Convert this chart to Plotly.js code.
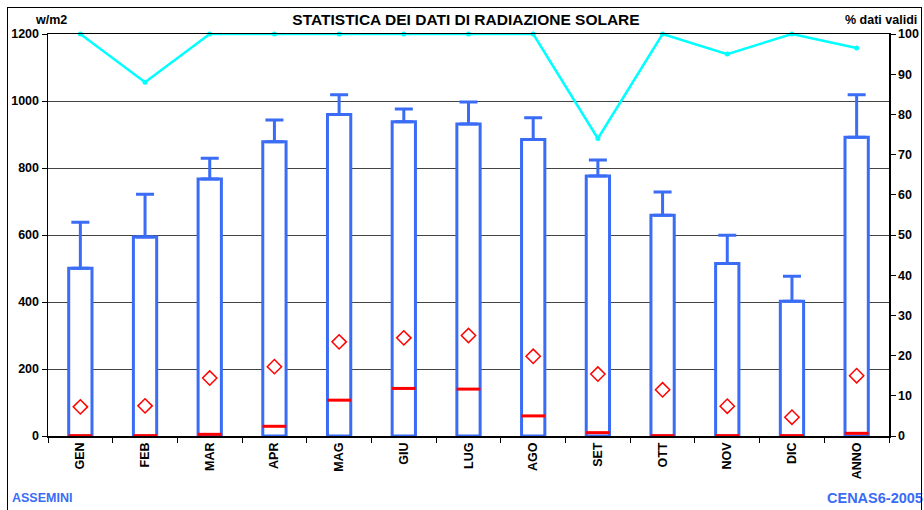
<!DOCTYPE html>
<html>
<head>
<meta charset="utf-8">
<script src="https://cdn.plot.ly/plotly-3.0.1.min.js"></script>
<style>
  html, body { margin: 0; padding: 0; background: #fff; }
  #wrap { position: relative; width: 924px; height: 510px; overflow: hidden; }
  #chart { position: absolute; left: 0; top: 0; width: 924px; height: 510px; }
  #frame { position: absolute; left: 7px; top: 7px; width: 915px; height: 510px; border: 1.5px solid #000; pointer-events: none; box-sizing: border-box; }
</style>
</head>
<body>
<div id="wrap">
  <div id="chart"></div>
  <div id="frame"></div>
</div>
<script>
// ---- data ----
const categories = ['GEN','FEB','MAR','APR','MAG','GIU','LUG','AGO','SET','OTT','NOV','DIC','ANNO'];
const boxTop     = [501, 594, 767, 878, 960, 938, 931, 885, 776, 659, 515, 402, 892];
const whiskerTop = [638, 722, 829, 943, 1019, 976, 997, 950, 824, 728, 599, 477, 1019];
const meanVal    = [87, 90, 173, 207, 281, 293, 300, 238, 185, 138, 89, 56, 180];
const medianVal  = [1, 1, 5, 29, 107, 142, 140, 60, 10, 1, 1, 1, 8];
const validPct   = [100, 88, 100, 100, 100, 100, 100, 100, 74, 100, 95, 100, 96.5];
const yTicks     = [0, 200, 400, 600, 800, 1000, 1200];
const y2Ticks    = [0, 10, 20, 30, 40, 50, 60, 70, 80, 90, 100];

const BLUE = '#3a6cf6';
const RED = '#ff0000';
const CYAN = '#00ffff';
const FONT = 'Liberation Sans, Arial, sans-serif';

const traces = [
  {
    type: 'bar', x: categories, y: boxTop, width: 0.36,
    marker: { color: '#ffffff', line: { color: BLUE, width: 3 } },
    error_y: {
      type: 'data', symmetric: false,
      array: whiskerTop.map((w, i) => w - boxTop[i]),
      arrayminus: boxTop.map(() => 0),
      color: BLUE, thickness: 3, width: 9
    },
    hoverinfo: 'skip'
  },
  {
    type: 'scatter', mode: 'markers', x: categories, y: medianVal,
    marker: { symbol: 'line-ew', size: 17, color: RED, line: { color: RED, width: 3 } },
    hoverinfo: 'skip'
  },
  {
    type: 'scatter', mode: 'markers', x: categories, y: meanVal,
    marker: { symbol: 'diamond-open', size: 11, color: RED, line: { color: RED, width: 1.5 } },
    hoverinfo: 'skip'
  },
  {
    type: 'scatter', mode: 'lines+markers', x: categories, y: validPct, yaxis: 'y2',
    line: { color: CYAN, width: 2.5 },
    marker: { symbol: 'circle', size: 5, color: CYAN },
    cliponaxis: false,
    hoverinfo: 'skip'
  }
];

const tickFont = { family: FONT, size: 12.5, weight: 'bold', color: '#000' };

const layout = {
  width: 924, height: 510,
  margin: { l: 48, r: 35, t: 34, b: 74, pad: 0, autoexpand: false },
  paper_bgcolor: '#ffffff', plot_bgcolor: '#ffffff',
  showlegend: false,
  bargap: 0.64,
  font: { family: FONT, color: '#000', size: 12.5 },
  title: {
    text: 'STATISTICA DEI DATI DI RADIAZIONE SOLARE',
    font: { family: FONT, size: 15.5, weight: 'bold', color: '#000' },
    xref: 'container', yref: 'container',
    x: 466 / 924, xanchor: 'center',
    y: 1 - 20 / 510, yanchor: 'middle'
  },
  xaxis: {
    type: 'category', categoryarray: categories, categoryorder: 'array',
    range: [-0.5, categories.length - 0.5], autorange: false,
    tickson: 'boundaries', ticks: 'outside', ticklen: 5, tickcolor: '#000', tickwidth: 1,
    tickangle: -90, tickfont: tickFont, automargin: false,
    showline: true, linecolor: '#000', linewidth: 1.5, mirror: true,
    showgrid: false, zeroline: false
  },
  yaxis: {
    range: [0, 1200], tickvals: yTicks, ticktext: yTicks.map(String),
    ticks: 'outside', ticklen: 5, tickcolor: '#000', automargin: false,
    tickfont: tickFont,
    showline: true, linecolor: '#000', linewidth: 1.5,
    showgrid: true, gridcolor: '#444', gridwidth: 1,
    zeroline: false
  },
  yaxis2: {
    range: [0, 100], tickvals: y2Ticks, ticktext: y2Ticks.map(String),
    overlaying: 'y', side: 'right', automargin: false,
    ticks: 'outside', ticklen: 5, tickcolor: '#000',
    tickfont: tickFont,
    showline: true, linecolor: '#000', linewidth: 1.5,
    showgrid: false, zeroline: false
  },
  annotations: [
    { text: 'w/m2', xref: 'paper', yref: 'paper', x: (51 - 48) / 841, y: (436 - 20) / 402,
      xanchor: 'center', yanchor: 'middle', showarrow: false,
      font: { family: FONT, size: 12.5, weight: 'bold', color: '#000' } },
    { text: '% dati validi', xref: 'paper', yref: 'paper', x: (881 - 48) / 841, y: (436 - 20) / 402,
      xanchor: 'center', yanchor: 'middle', showarrow: false,
      font: { family: FONT, size: 12.5, weight: 'bold', color: '#000' } },
    { text: 'ASSEMINI', xref: 'paper', yref: 'paper', x: (10 - 48) / 841, y: (436 - 498) / 402,
      xanchor: 'left', yanchor: 'middle', showarrow: false,
      font: { family: FONT, size: 12.5, weight: 'bold', color: BLUE } },
    { text: 'CENAS6-2005', xref: 'paper', yref: 'paper', x: (925 - 48) / 841, y: (436 - 498) / 402,
      xanchor: 'right', yanchor: 'middle', showarrow: false,
      font: { family: FONT, size: 14.5, weight: 'bold', color: BLUE } }
  ]
};

Plotly.newPlot('chart', traces, layout, { staticPlot: true, displayModeBar: false });
</script>
</body>
</html>
